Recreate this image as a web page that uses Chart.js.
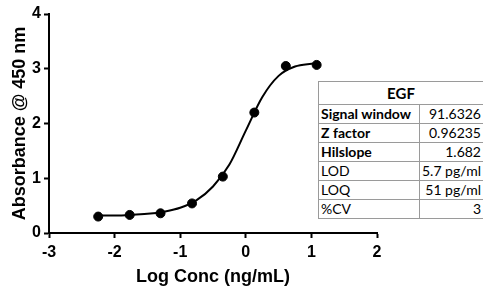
<!DOCTYPE html>
<html>
<head>
<meta charset="utf-8">
<script src="https://cdn.jsdelivr.net/npm/chart.js@4.4.0/dist/chart.umd.min.js"></script>
<style>
  body { margin: 0; background: #fff; }
  #wrap { position: relative; width: 483px; height: 291px; }
  #stats {
    position: absolute; left: 318px; top: 81px; width: 166px;
    border-collapse: collapse; font-family: Lato, "Open Sans", sans-serif;
    font-size: 14px; color: #000; background: #fff;
  }
  #stats td { border: 1px solid #9a9a9a; padding: 0 2px; height: 18px; line-height: 18px; white-space: nowrap; }
  #stats th { border: 1px solid #9a9a9a; height: 20px; font-size: 15px; font-weight: bold; }
  #stats td.lab { font-weight: bold; width: 100px; }
  #stats td.val { text-align: right; }
</style>
</head>
<body>
<div id="wrap">
  <canvas id="chart" width="483" height="291"></canvas>
  <table id="stats"><thead></thead><tbody></tbody></table>
</div>
<script>
// pontos medidos (log da concentração x absorbância)
const logConc = [-2.25, -1.77, -1.30, -0.82, -0.35, 0.13, 0.61, 1.08];
const absorbance = [0.30, 0.33, 0.36, 0.54, 1.03, 2.20, 3.05, 3.07];

// curva ajustada
const curveX = [-2.25, -2, -1.75, -1.5, -1.25, -1, -0.75, -0.5, -0.25, 0, 0.25, 0.5, 0.75, 1, 1.1];
const curveY = [0.32, 0.32, 0.33, 0.35, 0.39, 0.46, 0.60, 0.85, 1.25, 1.87, 2.48, 2.87, 3.04, 3.09, 3.10];

// tabela de parâmetros
const tableTitle = 'EGF';
const statNames = ['Signal window', 'Z factor', 'Hilslope', 'LOD', 'LOQ', '%CV'];
const statValues = ['91.6326', '0.96235', '1.682', '5.7 pg/ml', '51 pg/ml', '3'];

const xTicks = [-3, -2, -1, 0, 1, 2];
const yTicks = [0, 1, 2, 3, 4];

// Monta a tabela
const thead = document.querySelector('#stats thead');
thead.innerHTML = '<tr><th colspan="2">' + tableTitle + '</th></tr>';
const tbody = document.querySelector('#stats tbody');
statNames.forEach((name, i) => {
  const row = tbody.insertRow();
  const c1 = row.insertCell();
  const c2 = row.insertCell();
  c1.className = 'lab';
  c2.className = 'val';
  c1.textContent = name;
  c2.textContent = statValues[i];
  if (i >= 3) c1.style.fontWeight = 'normal';
});

const axisFont = { family: '"Liberation Sans", Arial, sans-serif', size: 16, weight: 'bold' };
const titleFont = { family: '"Liberation Sans", Arial, sans-serif', size: 18, weight: 'bold' };

new Chart(document.getElementById('chart').getContext('2d'), {
  type: 'scatter',
  data: {
    datasets: [
      {
        type: 'line',
        data: curveX.map((x, i) => ({ x: x, y: curveY[i] })),
        borderColor: '#000',
        borderWidth: 2,
        pointRadius: 0,
        cubicInterpolationMode: 'monotone',
        fill: false
      },
      {
        data: logConc.map((x, i) => ({ x: x, y: absorbance[i] })),
        backgroundColor: '#000',
        borderColor: '#000',
        pointRadius: 4.5,
        pointHoverRadius: 4.5
      }
    ]
  },
  options: {
    responsive: false,
    animation: false,
    layout: { padding: { left: 0, top: 14, right: 106, bottom: 0 } },
    plugins: { legend: { display: false }, tooltip: { enabled: false } },
    scales: {
      x: {
        type: 'linear', min: -3, max: 2,
        afterBuildTicks: s => { s.ticks = xTicks.map(v => ({ value: v })); },
        afterFit: s => { s.height = 58; },
        grid: { drawOnChartArea: false, drawTicks: true, tickLength: 5, tickWidth: 2, color: '#000' },
        border: { display: true, color: '#000', width: 2 },
        ticks: { color: '#000', font: axisFont, padding: 5, maxRotation: 0 },
        title: { display: true, text: 'Log Conc (ng/mL)', color: '#000', font: titleFont, padding: { top: 0, bottom: 3 } }
      },
      y: {
        type: 'linear', min: 0, max: 4,
        afterBuildTicks: s => { s.ticks = yTicks.map(v => ({ value: v })); },
        afterFit: s => { s.width = 49; },
        grid: { drawOnChartArea: false, drawTicks: true, tickLength: 5, tickWidth: 2, color: '#000' },
        border: { display: true, color: '#000', width: 2 },
        ticks: { color: '#000', font: axisFont, padding: 3 },
        title: { display: true, text: 'Absorbance @ 450 nm', color: '#000', font: titleFont, padding: { top: 9, bottom: 0 } }
      }
    }
  }
});
</script>
</body>
</html>
